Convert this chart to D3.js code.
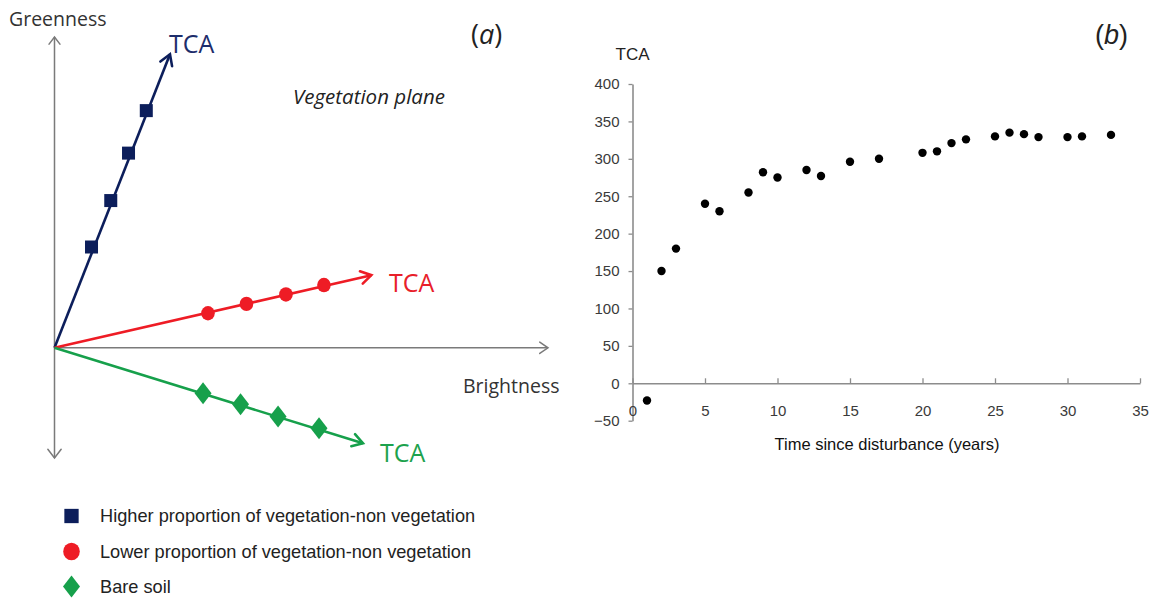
<!DOCTYPE html>
<html>
<head>
<meta charset="utf-8">
<script src="https://cdn.jsdelivr.net/npm/d3@7"></script>
<style>
  html, body { margin: 0; padding: 0; background: #fff; }
  svg { display: block; }
</style>
</head>
<body>
<svg id="fig" width="1154" height="599"></svg>
<script>
// ---- Panel (a): vegetation plane, TCA vectors in brightness/greenness space ----
const seriesNames = [
  "Higher proportion of vegetation-non vegetation",
  "Lower proportion of vegetation-non vegetation",
  "Bare soil"
];
const seriesColors = ["#0c1e5b", "#ee1c25", "#16a04b"];
const seriesShapes = ["square", "circle", "diamond"];

// sample positions along each vector (brightness, greenness)
const highVegBrightness = [7.5, 11.4, 15.0, 18.6];
const highVegGreenness  = [20.4, 29.8, 39.4, 48.0];
const lowVegBrightness  = [31.1, 38.9, 46.9, 54.6];
const lowVegGreenness   = [7.0, 8.9, 10.8, 12.7];
const soilBrightness    = [30.1, 37.7, 45.3, 53.6];
const soilGreenness     = [-9.2, -11.4, -13.9, -16.3];

// end of each TCA vector
const tipBrightness = [23.4, 64.2, 62.5];
const tipGreenness  = [59.4, 14.7, -19.3];

// ---- Panel (b): TCA against time since disturbance ----
const years = [1, 2, 3, 5, 6, 8, 9, 10, 12, 13, 15, 17, 20, 21, 22, 23, 25, 26, 27, 28, 30, 31, 33];
const tcaValues = [-23, 150, 180, 240, 230, 255, 282, 275, 285, 277, 296, 300, 308, 310, 321, 326, 330, 335, 333, 329, 329, 330, 332];
const xTickValues = [0, 5, 10, 15, 20, 25, 30, 35];
const yTickValues = [-50, 0, 50, 100, 150, 200, 250, 300, 350, 400];

const svg = d3.select("#fig");
const sansA = "'Open Sans', 'Noto Sans', sans-serif";
const sansB = "'Liberation Sans', Arial, sans-serif";

// ================= Panel (a) =================
const xA = d3.scaleLinear().domain([0, 100]).range([54.5, 548]);
const yA = d3.scaleLinear().domain([-22.3, 62.9]).range([458, 37]);
const gA = svg.append("g");

function chevron(g, x0, y0, x1, y1, len, ang, color, width) {
  const dir = Math.atan2(y1 - y0, x1 - x0);
  const a1 = dir + Math.PI - ang, a2 = dir + Math.PI + ang;
  g.append("path")
    .attr("d", `M${x1 + len * Math.cos(a1)},${y1 + len * Math.sin(a1)}L${x1},${y1}L${x1 + len * Math.cos(a2)},${y1 + len * Math.sin(a2)}`)
    .attr("fill", "none").attr("stroke", color).attr("stroke-width", width)
    .attr("stroke-linejoin", "miter").attr("stroke-linecap", "round");
}

const axisGray = "#7a7a7a";
// greenness axis (both directions)
gA.append("line").attr("x1", xA(0)).attr("x2", xA(0)).attr("y1", yA(-22.3)).attr("y2", yA(62.9))
  .attr("stroke", axisGray).attr("stroke-width", 1.5);
chevron(gA, xA(0), yA(0), xA(0), yA(62.9), 9, 0.65, axisGray, 1.5);
chevron(gA, xA(0), yA(0), xA(0), yA(-22.3), 11, 0.65, axisGray, 1.5);
// brightness axis
gA.append("line").attr("x1", xA(0)).attr("x2", xA(100)).attr("y1", yA(0)).attr("y2", yA(0))
  .attr("stroke", axisGray).attr("stroke-width", 1.5);
chevron(gA, xA(0), yA(0), xA(100), yA(0), 10, 0.6, axisGray, 1.5);

const seriesB = [highVegBrightness, lowVegBrightness, soilBrightness];
const seriesG = [highVegGreenness, lowVegGreenness, soilGreenness];

function drawMarker(g, shape, cx, cy, color, scale) {
  if (shape === "square") {
    const s = 13 * scale;
    g.append("rect").attr("x", cx - s / 2).attr("y", cy - s / 2).attr("width", s).attr("height", s).attr("fill", color);
  } else if (shape === "circle") {
    g.append("ellipse").attr("cx", cx).attr("cy", cy).attr("rx", 6.8 * scale).attr("ry", 7.2 * scale).attr("fill", color);
  } else {
    const w = 8.5 * scale, h = 11 * scale;
    g.append("path").attr("d", `M${cx},${cy - h}L${cx + w},${cy}L${cx},${cy + h}L${cx - w},${cy}Z`).attr("fill", color);
  }
}

seriesNames.forEach((name, i) => {
  const x0 = xA(0), y0 = yA(0), x1 = xA(tipBrightness[i]), y1 = yA(tipGreenness[i]);
  gA.append("line").attr("x1", x0).attr("y1", y0).attr("x2", x1).attr("y2", y1)
    .attr("stroke", seriesColors[i]).attr("stroke-width", 2.6);
  chevron(gA, x0, y0, x1, y1, 12, 0.55, seriesColors[i], 2.6);
  seriesB[i].forEach((b, k) => {
    drawMarker(gA, seriesShapes[i], xA(b), yA(seriesG[i][k]), seriesColors[i], 1);
  });
});

// labels in panel (a)
const tcaLabelPos = [[169, 53], [389, 292], [380, 462]];
const tcaLabelColors = ["#1d2d6b", "#e8202a", "#1da24d"];
tcaLabelPos.forEach((p, i) => {
  gA.append("text").attr("x", p[0]).attr("y", p[1]).text("TCA")
    .attr("font-family", sansA).attr("font-size", 25).attr("fill", tcaLabelColors[i]);
});
gA.append("text").attr("x", 9).attr("y", 26).text("Greenness")
  .attr("font-family", sansA).attr("font-size", 19.5).attr("fill", "#333");
gA.append("text").attr("x", 463).attr("y", 393).text("Brightness")
  .attr("font-family", sansA).attr("font-size", 19.5).attr("fill", "#333");
gA.append("text").attr("x", 293).attr("y", 104).text("Vegetation plane")
  .attr("font-family", sansA).attr("font-size", 20.5).attr("font-style", "italic").attr("fill", "#222");
const labA = gA.append("text").attr("x", 471).attr("y", 44)
  .attr("font-family", sansA).attr("font-size", 27).attr("fill", "#222");
labA.append("tspan").text("(");
labA.append("tspan").text("a").attr("font-style", "italic");
labA.append("tspan").text(")");

// legend
const legend = gA.append("g");
const legendY = [516, 551.5, 586.5];
seriesNames.forEach((name, i) => {
  drawMarker(legend, seriesShapes[i], 71.5, legendY[i], seriesColors[i], seriesShapes[i] === "square" ? 1.1 : (seriesShapes[i] === "circle" ? 1.22 : 1.0));
  legend.append("text").attr("x", 100).attr("y", legendY[i] + 6.3).text(name)
    .attr("font-family", sansB).attr("font-size", 18.2).attr("fill", "#222");
});

// ================= Panel (b) =================
const xB = d3.scaleLinear().domain([0, 35]).range([632.5, 1140]);
const yB = d3.scaleLinear().domain([-50, 400]).range([420.7, 84]);
const gB = svg.append("g");
const tickGray = "#8c8c8c";

const yAxis = d3.axisLeft(yB).tickValues(yTickValues).tickFormat(d3.format("d"))
  .tickSizeInner(4).tickSizeOuter(0).tickPadding(9);
const yAxisG = gB.append("g").attr("transform", `translate(${xB(0)},0)`).call(yAxis);

const xAxis = d3.axisBottom(xB).tickValues(xTickValues).tickFormat(d3.format("d"))
  .tickSizeInner(-5).tickSizeOuter(0).tickPadding(22);
const xAxisG = gB.append("g").attr("transform", `translate(0,${yB(0)})`).call(xAxis);

[yAxisG, xAxisG].forEach(a => {
  a.select(".domain").attr("stroke", tickGray).attr("stroke-width", 1.6);
  a.selectAll(".tick line").attr("stroke", tickGray).attr("stroke-width", 1.3);
  a.selectAll(".tick text").attr("font-family", sansB).attr("font-size", 15).attr("fill", "#3a3a3a");
});

gB.selectAll("circle.pt").data(years).join("circle").attr("class", "pt")
  .attr("cx", (d, i) => xB(d)).attr("cy", (d, i) => yB(tcaValues[i]))
  .attr("r", 4.2).attr("fill", "#000");

gB.append("text").attr("x", xB(0)).attr("y", 60).attr("text-anchor", "middle").text("TCA")
  .attr("font-family", sansB).attr("font-size", 17).attr("fill", "#222");
gB.append("text").attr("x", 887).attr("y", 450).attr("text-anchor", "middle").text("Time since disturbance (years)")
  .attr("font-family", sansB).attr("font-size", 16.5).attr("fill", "#111");
const labB = gB.append("text").attr("x", 1095).attr("y", 44)
  .attr("font-family", sansB).attr("font-size", 27).attr("fill", "#222");
labB.append("tspan").text("(");
labB.append("tspan").text("b").attr("font-style", "italic");
labB.append("tspan").text(")");
</script>
</body>
</html>
